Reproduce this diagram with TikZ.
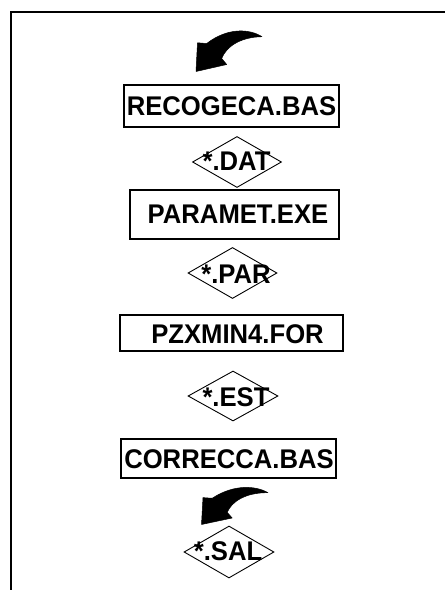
\documentclass[tikz,border=0pt]{standalone}
\usepackage{fontspec}
\setmainfont{Liberation Sans}
\usetikzlibrary{shapes.geometric}
\newcommand{\fnm}[1]{\scalebox{0.95}[1]{#1}}
\tikzset{
  frameline/.style={line width=2pt},
  filebox/.style={draw, line width=1.3pt, rectangle, inner sep=0pt},
  filetag/.style={draw, line width=0.9pt, diamond, inner sep=0pt},
  lbl/.style={inner sep=0pt, font=\fontsize{27}{30}\selectfont\bfseries, text height=19.3pt, text depth=0pt},
  bigarrow/.style={fill=black, draw=black, line width=0.5pt, line join=round}
}
\begin{document}
\begin{tikzpicture}[x=1pt,y=-1pt]
\useasboundingbox (0,0) rectangle (445,590);
% frame
\coordinate (ftr) at (445,12);
\coordinate (ftl) at (11,12);
\coordinate (fbl) at (11,590);
\draw[frameline] (ftr) -- (ftl) -- (fbl);
% top arrow
\draw[bigarrow] (262,36.7) .. controls (250,29) and (228,27) .. (206.7,43.5) -- (197.5,42.8) -- (196,71.5) -- (226.7,64.5) -- (221.7,58.5) .. controls (226,47) and (240,37) .. (262,36.7) -- cycle;
% boxes
\node[filebox, minimum width=215pt, minimum height=42pt] (b1) at (231.5,106) {};
\node[lbl] (t1) at (231.5,106.3) {\fnm{RECOGECA.BAS}};
\node[filetag, minimum width=89pt, minimum height=51pt] (d1) at (237,162) {};
\node[lbl] (s1) at (236.5,161) {\fnm{*.DAT}};
\node[filebox, minimum width=209pt, minimum height=49pt] (b2) at (234.5,214.5) {};
\node[lbl] (t2) at (238,214) {\fnm{PARAMET.EXE}};
\node[filetag, minimum width=89pt, minimum height=51pt] (d2) at (232.5,273) {};
\node[lbl] (s2) at (236,273.5) {\fnm{*.PAR}};
\node[filebox, minimum width=223pt, minimum height=36pt] (b3) at (231.5,333) {};
\node[lbl] (t3) at (237.5,333.5) {\fnm{PZXMIN4.FOR}};
\node[filetag, minimum width=90pt, minimum height=50pt] (d3) at (233,396) {};
\node[lbl] (s3) at (236,397) {\fnm{*.EST}};
\node[filebox, minimum width=215pt, minimum height=39pt] (b4) at (228.5,458.5) {};
\node[lbl] (t4) at (229,459) {\fnm{CORRECCA.BAS}};
% bottom arrow
\begin{scope}[shift={(201.5,524.5)}, yscale=0.93]
\draw[bigarrow] (66.5,-34.2) .. controls (54.5,-41.7) and (32.5,-43.7) .. (10.7,-28.2) -- (1.5,-28.9) -- (0,0) -- (30.7,-7) -- (25.7,-13) .. controls (30,-24.5) and (44,-34.5) .. (66.5,-34.2) -- cycle;
\end{scope}
\node[filetag, minimum width=90pt, minimum height=52pt] (d4) at (229,552) {};
\node[lbl] (s4) at (228,550.5) {\fnm{*.SAL}};
\end{tikzpicture}
\end{document}
